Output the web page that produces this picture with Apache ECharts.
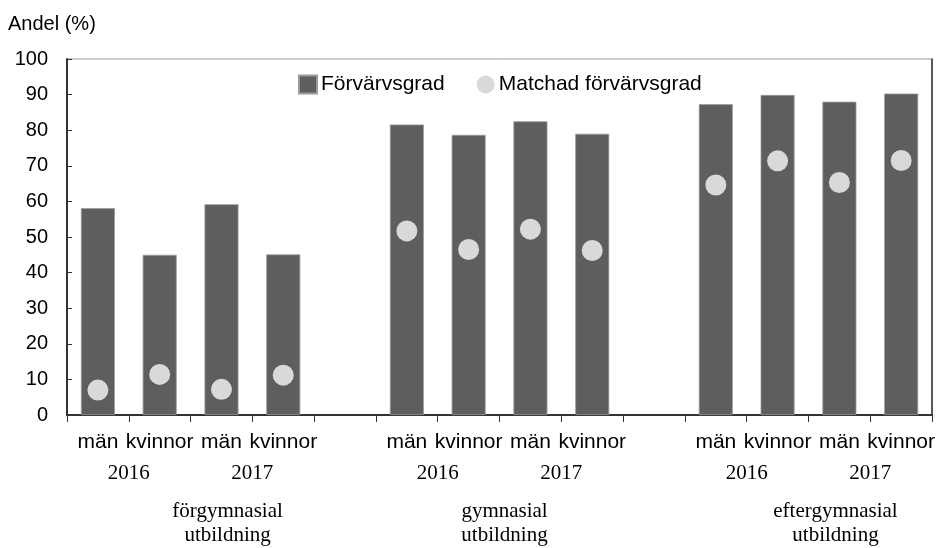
<!DOCTYPE html>
<html>
<head>
<meta charset="utf-8">
<script src="https://cdn.jsdelivr.net/npm/echarts@6/dist/echarts.min.js"></script>
<style>
html,body{margin:0;padding:0;background:#fff}
#chart{width:938px;height:548px}
</style>
</head>
<body>
<div id="chart"></div>
<script>
// data
var categories=['män','kvinnor','män','kvinnor','','män','kvinnor','män','kvinnor','','män','kvinnor','män','kvinnor'];
var forvarvsgrad=[58.1,45.0,59.2,45.1,'-',81.6,78.7,82.5,79.0,'-',87.3,89.9,88.0,90.3];
var matchad=[7.0,11.4,7.2,11.2,'-',51.7,46.5,52.2,46.2,'-',64.6,71.4,65.3,71.5];
var years=['2016','2017'];
var groups=['förgymnasial\nutbildning','gymnasial\nutbildning','eftergymnasial\nutbildning'];
var groupStart=[0,5,10];
var groupShift=[37,5,27];

var sans='"Liberation Sans", Arial, sans-serif';
var serif='"Liberation Serif", "Times New Roman", serif';

var chart=echarts.init(document.getElementById('chart'));

var option={
    animation:false,
    backgroundColor:'#fff',
    grid:{
        left:67,right:5,top:59,bottom:133,
        show:true,borderColor:'#999',borderWidth:1
    },
    graphic:[{
        type:'text',left:8,top:14,
        style:{text:'Andel (%)',font:'20px '+sans,fill:'#000'}
    }],
    legend:{
        left:298,top:74,padding:0,
        itemWidth:18,itemHeight:18,itemGap:32,
        textStyle:{fontFamily:sans,fontSize:21,color:'#000',padding:[0,0,0,-1]},
        data:[{name:'Förvärvsgrad',icon:'rect'},{name:'Matchad förvärvsgrad',icon:'circle'}]
    },
    xAxis:{
        type:'category',
        data:categories,
        axisLine:{lineStyle:{color:'#333',width:2}},
        axisTick:{show:true,length:7,lineStyle:{color:'#333'}},
        axisLabel:{color:'#000',fontFamily:sans,fontSize:21,margin:17,interval:0}
    },
    yAxis:[{
        type:'value',min:0,max:100,interval:10,
        axisLine:{show:true,lineStyle:{color:'#333',width:2}},
        axisTick:{show:true,inside:true,length:5,lineStyle:{color:'#333'}},
        splitLine:{show:false},
        axisLabel:{color:'#000',fontFamily:sans,fontSize:20,margin:19}
    },{
        type:'value',min:0,max:100,interval:10,position:'right',
        axisLine:{show:true,lineStyle:{color:'#333',width:1.5}},
        axisTick:{show:false},axisLabel:{show:false},splitLine:{show:false}
    }],
    series:[{
        name:'Förvärvsgrad',
        type:'bar',
        data:forvarvsgrad,
        barWidth:34,
        itemStyle:{color:'#5e5e5e',borderColor:'#9a9a9a',borderWidth:0.8}
    },{
        name:'Matchad förvärvsgrad',
        type:'scatter',
        data:matchad,
        symbolSize:21,
        itemStyle:{color:'#d9d9d9',opacity:1},
        z:3
    }]
};
chart.setOption(option);

// year and level labels under the axis, placed from the category scale
var extra=[];
var axisY=chart.convertToPixel({yAxisIndex:0},0);
groupStart.forEach(function(s,g){
    years.forEach(function(y,k){
        var a=chart.convertToPixel({xAxisIndex:0},s+2*k);
        var b=chart.convertToPixel({xAxisIndex:0},s+2*k+1);
        extra.push({
            type:'text',
            x:(a+b)/2,y:axisY+58,
            style:{text:y,font:'21px '+serif,fill:'#000',align:'center',verticalAlign:'middle'}
        });
    });
    var c0=chart.convertToPixel({xAxisIndex:0},s);
    var c3=chart.convertToPixel({xAxisIndex:0},s+3);
    extra.push({
        type:'text',
        x:(c0+c3)/2+groupShift[g],y:axisY+108,
        style:{text:groups[g],font:'21px '+serif,fill:'#000',align:'center',verticalAlign:'middle',lineHeight:24}
    });
});
chart.setOption({graphic:option.graphic.concat(extra)});
</script>
</body>
</html>
